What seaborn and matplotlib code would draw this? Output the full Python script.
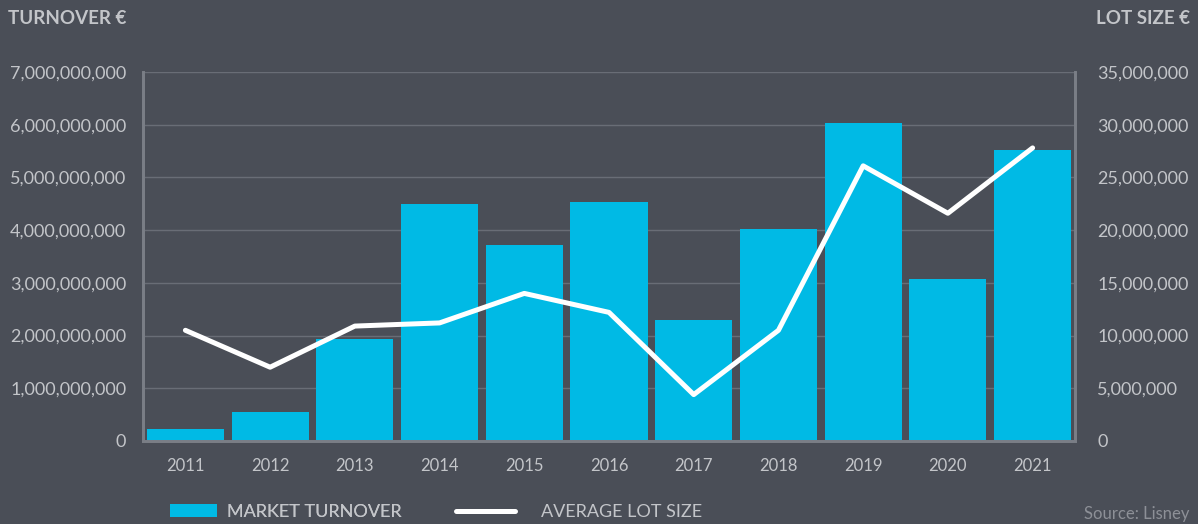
import matplotlib
matplotlib.use("Agg")
import matplotlib.pyplot as plt
import matplotlib.ticker as mticker
from matplotlib.patches import Patch
from matplotlib.lines import Line2D
import seaborn as sns
import pandas as pd

# data
years = ["2011", "2012", "2013", "2014", "2015", "2016", "2017", "2018", "2019", "2020", "2021"]
turnover = [0.23e9, 0.55e9, 1.94e9, 4.50e9, 3.72e9, 4.53e9, 2.30e9, 4.02e9, 6.03e9, 3.07e9, 5.52e9]
lot_size = [10.5e6, 7.0e6, 10.9e6, 11.2e6, 14.0e6, 12.2e6, 4.4e6, 10.5e6, 26.1e6, 21.6e6, 27.8e6]

df = pd.DataFrame({"year": years, "turnover": turnover, "lot": lot_size})

bg = "#4a4e57"
bar_col = "#00bae5"
txt = "#c3c5c9"
grid_col = "#696d76"
spine_col = "#7a7e86"

sns.set_theme(style="dark")
plt.rcParams["font.family"] = ["Lato", "DejaVu Sans"]

fig = plt.figure(figsize=(11.98, 5.24), dpi=100, facecolor=bg)
ax = fig.add_axes([0.1194, 0.1584, 0.8973 - 0.1194, 0.8626 - 0.1584])
ax.set_facecolor(bg)

# bars: market turnover
sns.barplot(data=df, x="year", y="turnover", color=bar_col, width=0.91,
            saturation=1, linewidth=0, ax=ax, zorder=2)
ax.set_ylim(0, 7e9)
ax.set_xlim(-0.5, len(years) - 0.5)
ax.yaxis.set_major_locator(mticker.MultipleLocator(1e9))
ax.yaxis.set_major_formatter(mticker.FuncFormatter(lambda v, p: f"{int(v):,}"))
ax.grid(axis="y", color=grid_col, linewidth=1, zorder=0)
ax.grid(axis="x", visible=False)
ax.set_axisbelow(True)
ax.set_xlabel("")
ax.set_ylabel("")
ax.tick_params(axis="y", colors=txt, labelsize=13, length=0, pad=12)
ax.tick_params(axis="x", colors=txt, labelsize=12, length=0, pad=12)

# line: average lot size on the right axis
ax2 = ax.twinx()
sns.pointplot(data=df, x="year", y="lot", color="white", markers="",
              linewidth=3.6, ax=ax2, errorbar=None)
ax2.set_ylim(0, 35e6)
ax2.set_xlim(-0.5, len(years) - 0.5)
ax2.yaxis.set_major_locator(mticker.MultipleLocator(5e6))
ax2.yaxis.set_major_formatter(mticker.FuncFormatter(lambda v, p: f"{int(v):,}"))
ax2.set_ylabel("")
ax2.grid(False)
ax2.tick_params(axis="y", colors=txt, labelsize=13, length=0, pad=16)

for a in (ax, ax2):
    for side in ("left", "bottom", "right"):
        a.spines[side].set_visible(True)
        a.spines[side].set_color(spine_col)
        a.spines[side].set_linewidth(2)
    a.spines["top"].set_visible(False)

fig.text(0.007, 0.965, "TURNOVER €", color=txt, fontsize=13.5, fontweight="bold",
         ha="left", va="center")
fig.text(0.993, 0.965, "LOT SIZE €", color=txt, fontsize=13.5, fontweight="bold",
         ha="right", va="center")

leg1 = fig.legend([Patch(facecolor=bar_col, edgecolor="none")], ["MARKET TURNOVER"],
                  loc="center left", bbox_to_anchor=(0.128, 0.023), frameon=False,
                  fontsize=13, labelcolor=txt, handlelength=2.6, handleheight=0.7,
                  handletextpad=0.6)
leg2 = fig.legend([Line2D([0], [0], color="white", linewidth=3.6)], ["AVERAGE LOT SIZE"],
                  loc="center left", bbox_to_anchor=(0.367, 0.023), frameon=False,
                  fontsize=13, labelcolor=txt, handlelength=3.3, handletextpad=1.4)
fig.add_artist(leg1)

fig.text(0.993, 0.004, "Source: Lisney", color="#8d9097", fontsize=12,
         ha="right", va="bottom")

fig.savefig("out.png", dpi=100, facecolor=bg)
